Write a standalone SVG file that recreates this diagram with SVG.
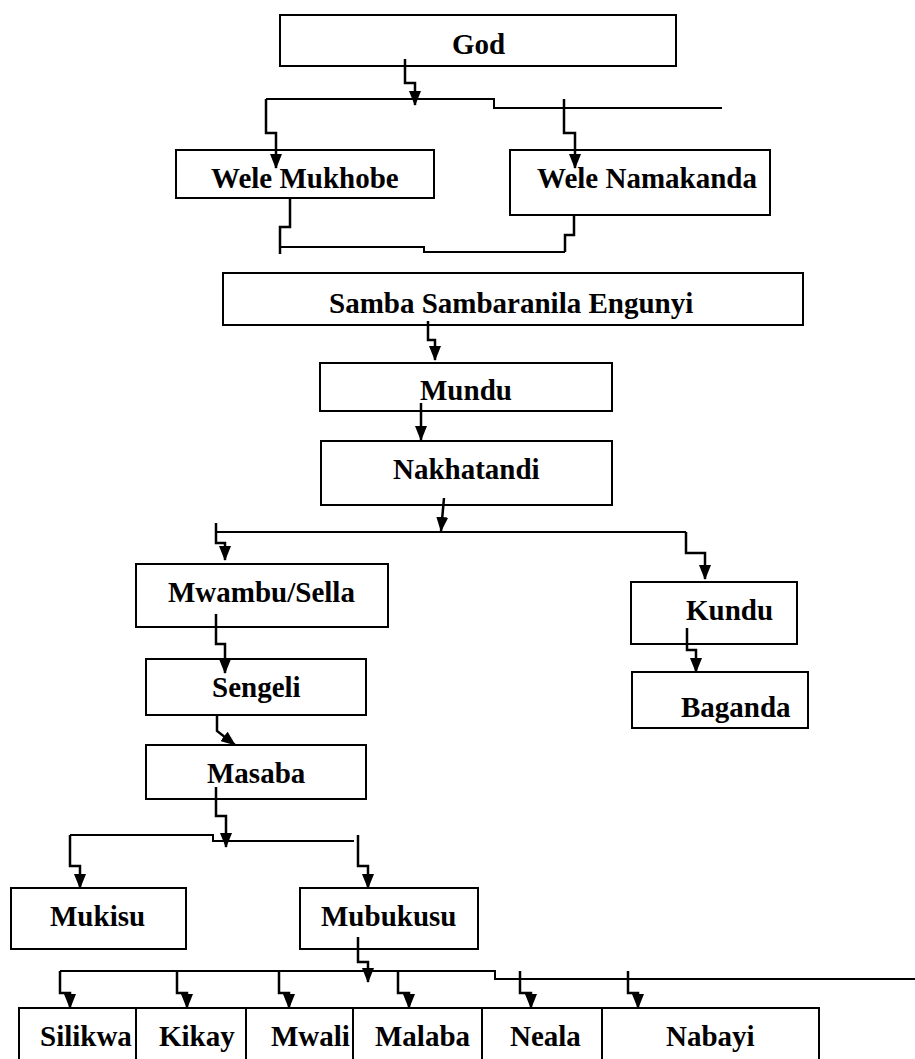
<svg xmlns="http://www.w3.org/2000/svg" width="915" height="1059" viewBox="0 0 915 1059">
<style>
.box{fill:#fff;stroke:#000;stroke-width:2}
.t{font-family:"Liberation Serif","Times New Roman",serif;font-weight:bold;font-size:29px;fill:#000}
.c{fill:none;stroke:#000;stroke-width:2.5}
.a{fill:none;stroke:#000;stroke-width:2.5;marker-end:url(#ah)}
.bus{fill:none;stroke:#000;stroke-width:2}
</style>
<defs>
<marker id="ah" viewBox="0 0 15 12" refX="14" refY="6" markerWidth="15" markerHeight="12" markerUnits="userSpaceOnUse" orient="auto">
<path d="M0,0 L15,6 L0,12 z" fill="#000"/>
</marker>
</defs>
<rect width="915" height="1059" fill="#fff"/>
<g id="n-god"><rect class="box" x="280" y="15" width="396" height="51"/><text class="t" x="452" y="54">God</text></g>
<g id="n-wele-mukhobe"><rect class="box" x="176" y="150" width="258" height="48"/><text class="t" x="211" y="188">Wele Mukhobe</text></g>
<g id="n-wele-namakanda"><rect class="box" x="510" y="150" width="260" height="65"/><text class="t" x="537" y="188">Wele Namakanda</text></g>
<g id="n-samba"><rect class="box" x="223" y="273" width="580" height="52"/><text class="t" x="329" y="313">Samba Sambaranila Engunyi</text></g>
<g id="n-mundu"><rect class="box" x="320" y="363" width="292" height="48"/><text class="t" x="420" y="400">Mundu</text></g>
<g id="n-nakhatandi"><rect class="box" x="321" y="441" width="291" height="64"/><text class="t" x="393" y="479">Nakhatandi</text></g>
<g id="n-mwambu"><rect class="box" x="136" y="564" width="252" height="63"/><text class="t" x="168" y="602">Mwambu/Sella</text></g>
<g id="n-kundu"><rect class="box" x="631" y="582" width="166" height="62"/><text class="t" x="686" y="620">Kundu</text></g>
<g id="n-baganda"><rect class="box" x="632" y="672" width="176" height="56"/><text class="t" x="681" y="717">Baganda</text></g>
<g id="n-sengeli"><rect class="box" x="146" y="659" width="220" height="56"/><text class="t" x="212" y="697">Sengeli</text></g>
<g id="n-masaba"><rect class="box" x="146" y="745" width="220" height="54"/><text class="t" x="207" y="783">Masaba</text></g>
<g id="n-mukisu"><rect class="box" x="11" y="888" width="175" height="61"/><text class="t" x="50" y="926">Mukisu</text></g>
<g id="n-mubukusu"><rect class="box" x="300" y="888" width="178" height="61"/><text class="t" x="321" y="926">Mubukusu</text></g>
<g id="n-silikwa"><rect class="box" x="19" y="1008" width="117" height="62"/><text class="t" x="40" y="1046">Silikwa</text></g>
<g id="n-kikay"><rect class="box" x="136" y="1008" width="110" height="62"/><text class="t" x="159" y="1046">Kikay</text></g>
<g id="n-mwali"><rect class="box" x="246" y="1008" width="107" height="62"/><text class="t" x="271" y="1046">Mwali</text></g>
<g id="n-malaba"><rect class="box" x="353" y="1008" width="129" height="62"/><text class="t" x="375" y="1046">Malaba</text></g>
<g id="n-neala"><rect class="box" x="482" y="1008" width="120" height="62"/><text class="t" x="510" y="1046">Neala</text></g>
<g id="n-nabayi"><rect class="box" x="602" y="1008" width="217" height="62"/><text class="t" x="666" y="1046">Nabayi</text></g>
<g id="connectors">
<path class="a" d="M405,59 V83 H415 V105"/>
<path class="bus" d="M266,99 H494 V108 H722"/>
<path class="a" d="M266,99 V133 H276 V168"/>
<path class="a" d="M564,99 V133 H575 V168"/>
<path class="c" d="M290,198 V227 H280 V254"/>
<path class="bus" d="M280,247 H424 V252 H565"/>
<path class="c" d="M574,215 V235 H565 V252"/>
<path class="a" d="M428,321 V340 H435 V360"/>
<path class="a" d="M421,403 V440"/>
<path class="a" d="M444,498 L441,531"/>
<path class="bus" d="M217,532 H686"/>
<path class="a" d="M216,523 V543 H225 V560"/>
<path class="a" d="M686,532 V553 H705 V579"/>
<path class="a" d="M216,614 V644 H225 V673"/>
<path class="a" d="M687,628 V650 H696 V672"/>
<path class="a" d="M217,715 V731 L235,745"/>
<path class="a" d="M216,787 V816 H226 V847"/>
<path class="bus" d="M70,835 H213 V841 H354"/>
<path class="a" d="M70,835 V866 H80 V888"/>
<path class="a" d="M358,835 V866 H368 V888"/>
<path class="a" d="M358,937 V962 H368 V982"/>
<path class="bus" d="M60,971 H495 V979 H915"/>
<path class="a" d="M60,971 V993 H70 V1008"/>
<path class="a" d="M177,971 V993 H187 V1008"/>
<path class="a" d="M279,971 V993 H289 V1008"/>
<path class="a" d="M398,971 V993 H409 V1008"/>
<path class="a" d="M520,971 V993 H531 V1008"/>
<path class="a" d="M628,971 V993 H638 V1008"/>
</g>
</svg>
